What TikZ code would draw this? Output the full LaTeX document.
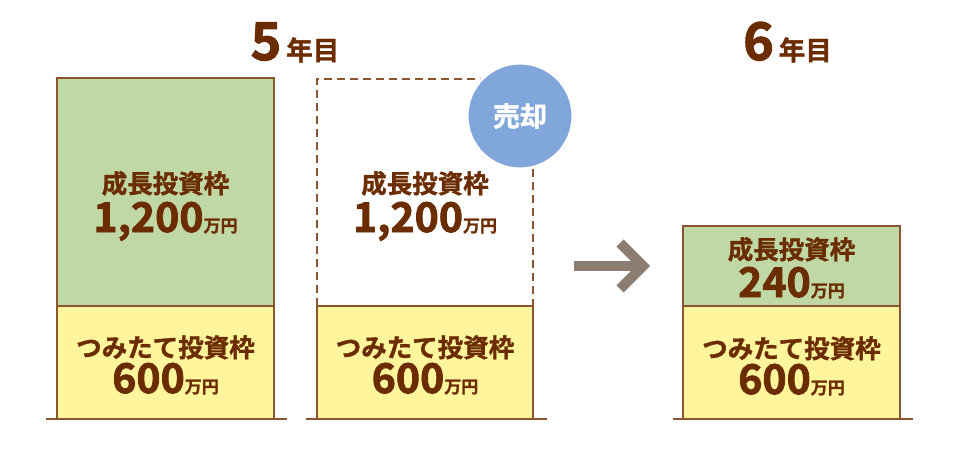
\documentclass[tikz,border=0pt]{standalone}
\usepackage{fontspec}
\setmainfont{Noto Sans CJK JP}[BoldFont={Noto Sans CJK JP Bold}]
\newfontfamily\hvfont{Noto Sans CJK JP Bold}[FakeBold=1.3]
\newfontfamily\hvnum{Noto Sans CJK JP Bold}[FakeBold=2]
\definecolor{txt}{HTML}{6B2C00}
\definecolor{edge}{HTML}{8B5530}
\definecolor{grn}{HTML}{BFD8A5}
\definecolor{ylw}{HTML}{FFF59D}
\definecolor{blu}{HTML}{80A6DA}
\definecolor{arr}{HTML}{8B7D70}
\newcommand{\bignum}[1]{{\hvnum\fontsize{41}{41}\selectfont #1}}
\newcommand{\yenunit}{{\fontsize{17}{17}\selectfont 万円}}
\newcommand{\boxlab}[1]{{\fontsize{25.5}{25.5}\selectfont #1}}
\tikzset{
  box/.style={draw=edge,line width=1.4pt},
  ground/.style={draw=edge,line width=2pt},
  txtnode/.style={text=txt,font=\hvfont,inner sep=0pt,anchor=base},
}
\begin{document}
\begin{tikzpicture}[x=1pt,y=-1pt]
\useasboundingbox (0,0) rectangle (980,450);
% titles
\node[txtnode] (t5) at (295,60) {{\hvnum\fontsize{52}{52}\selectfont 5}\hspace{5pt}{\fontsize{26.5}{26.5}\selectfont 年目}};
\node[txtnode] (t6) at (787.5,60) {{\hvnum\fontsize{52}{52}\selectfont 6}\hspace{5pt}{\fontsize{26.5}{26.5}\selectfont 年目}};
% box 1
\path[box,fill=grn] (57,78) rectangle (274,306);
\path[box,fill=ylw] (57,306) rectangle (274,419);
\draw[ground] (46,419) -- (287,419);
\node[txtnode] (g1) at (165.5,193) {\boxlab{成長投資枠}};
\node[txtnode] (g1v) at (165.5,232) {\bignum{1,200}\yenunit};
\node[txtnode] (y1) at (165.5,357) {\boxlab{つみたて投資枠}};
\node[txtnode] (y1v) at (165.5,393) {\bignum{600}\yenunit};
% box 2
\draw[edge,line width=1.4pt,dash pattern=on 8pt off 5pt] (317,306) -- (317,79) -- (533,79) -- (533,306);
\path[box,fill=ylw] (317,306) rectangle (533,419);
\draw[ground] (306,419) -- (547,419);
\node[txtnode] (g2) at (425,193) {\boxlab{成長投資枠}};
\node[txtnode] (g2v) at (425,232) {\bignum{1,200}\yenunit};
\node[txtnode] (y2) at (425,357) {\boxlab{つみたて投資枠}};
\node[txtnode] (y2v) at (425,393) {\bignum{600}\yenunit};
\node[circle,fill=blu,draw=white,line width=3pt,minimum size=106pt,inner sep=0pt,text=white,font=\hvfont\fontsize{27}{27}\selectfont] (sell) at (520,116) {売却};
% arrow
\draw[arr,line width=10pt] (574,266) -- (640,266);
\draw[arr,line width=10pt,miter limit=10] (620,243) -- (643,266) -- (620,289);
% box 3
\path[box,fill=grn] (683,226) rectangle (900,306);
\path[box,fill=ylw] (683,306) rectangle (900,419);
\draw[ground] (673,419) -- (913,419);
\node[txtnode] (g3) at (791.5,259) {\boxlab{成長投資枠}};
\node[txtnode] (g3v) at (791.5,297) {\bignum{240}\yenunit};
\node[txtnode] (y3) at (791.5,358) {\boxlab{つみたて投資枠}};
\node[txtnode] (y3v) at (791.5,394) {\bignum{600}\yenunit};
\end{tikzpicture}
\end{document}
